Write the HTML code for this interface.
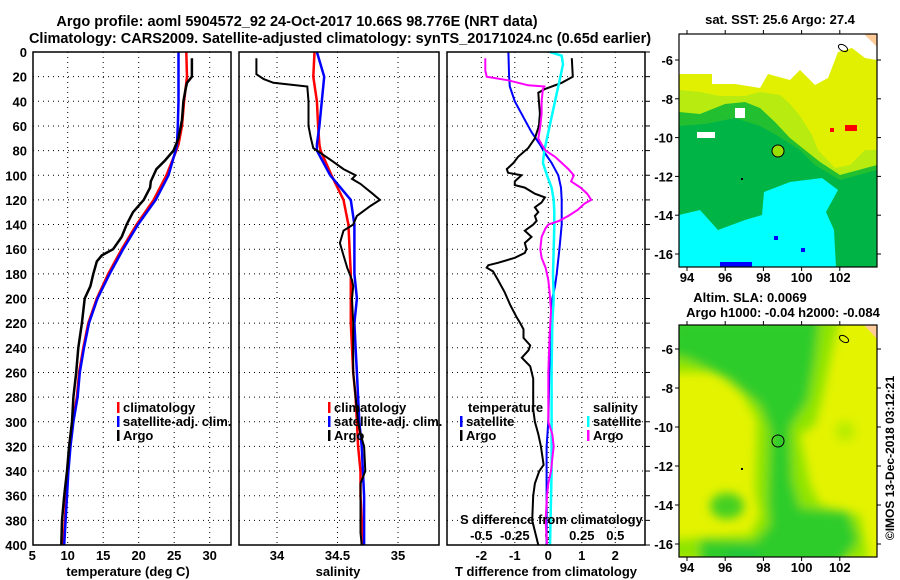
<!DOCTYPE html>
<html><head><meta charset="utf-8"><style>
html,body{margin:0;padding:0;background:#fff;}
#wrap{position:relative;width:900px;height:580px;overflow:hidden;}
svg{position:absolute;left:0;top:0;font-family:"Liberation Sans",sans-serif;font-weight:bold;}
</style></head><body>
<div id="wrap">
<svg id="s" width="900" height="580" viewBox="0 0 900 580"></svg>
</div>
<script>
// ---- data ----
const depthTicks=[0,20,40,60,80,100,120,140,160,180,200,220,240,260,280,300,320,340,360,380,400];
const tempTicks=[5,10,15,20,25,30];
const salTicks=[34,34.5,35];
const salTickLabels=["34","34.5","35"];
const tdTicks=[-2,-1,0,1,2];
const sdTicks=[-0.5,-0.25,0,0.25,0.5];
const sdTickLabels=["-0.5","-0.25","0","0.25","0.5"];

const climDepth=[0,20,40,60,75,80,100,120,140,160,180,200,220,240,260,280,300,320,340,360,380,400];
const climTemp=[26.7,26.8,26.4,26.1,25.6,25.3,23.9,22.1,19.7,17.6,15.7,14.1,12.9,12.2,11.6,11.3,10.7,10.3,10.0,9.8,9.6,9.4];
const satDepth=[0,20,40,60,75,80,100,120,140,160,180,200,220,240,260,280,300,320,340,360,380,400];
const satTemp=[25.6,25.6,25.6,25.5,25.4,25.2,24.2,22.4,19.9,17.8,15.9,14.2,13.0,12.3,11.7,11.4,10.8,10.4,10.1,9.9,9.7,9.5];
const argoTDepth=[5,20,25,30,40,55,70,80,88,95,105,110,120,130,140,150,160,165,170,180,190,200,220,240,260,280,300,320,340,360,380,400];
const argoTemp=[27.5,27.5,26.8,26.6,26.3,26.1,25.6,24.9,23.7,22.5,21.7,21.6,20.7,19.2,18.3,17.6,16.4,14.8,14.1,13.6,13.2,12.4,12.0,11.5,11.2,10.8,10.6,10.2,9.9,9.5,9.2,9.1];

const climSal=[34.31,34.30,34.33,34.34,34.35,34.36,34.45,34.55,34.59,34.60,34.61,34.61,34.61,34.62,34.63,34.65,34.66,34.67,34.69,34.69,34.70,34.70];
const satSal=[34.33,34.39,34.37,34.35,34.33,34.33,34.44,34.61,34.64,34.64,34.64,34.66,34.64,34.65,34.66,34.67,34.68,34.70,34.71,34.72,34.72,34.72];
const argoSDepth=[5,18,22,25,28,40,60,70,78,82,88,95,100,103,107,115,120,125,133,140,145,155,165,175,185,190,200,220,240,260,280,300,310,320,340,350,360,380,390,400];
const argoSal=[33.83,33.83,33.89,33.97,34.25,34.26,34.26,34.28,34.30,34.36,34.45,34.55,34.65,34.62,34.69,34.79,34.85,34.77,34.66,34.63,34.55,34.52,34.55,34.58,34.62,34.63,34.62,34.63,34.63,34.63,34.65,34.67,34.69,34.72,34.73,34.69,34.69,34.69,34.69,34.70];

const dSatDepth=[0,20,28,40,55,65,75,82,90,100,110,120,140,160,180,190,200,220,240,260,300,320,360,400];
const dSatTemp=[-1.19,-1.17,-1.15,-1.0,-0.7,-0.5,-0.25,-0.1,0.1,0.3,0.38,0.4,0.4,0.33,0.25,0.2,0.12,0.08,0.05,0.03,0.0,-0.05,-0.05,-0.05];
const dArgoTDepth=[5,20,25,30,33,40,50,60,70,78,85,90,95,98,100,105,108,110,115,118,122,126,130,133,137,140,145,150,155,160,163,167,171,173,175,178,185,195,205,215,220,225,232,238,242,248,255,265,280,290,300,310,320,335,340,350,360,380,400];
const dArgoTemp=[0.70,0.73,0.4,-0.1,-0.3,-0.28,-0.25,-0.28,-0.4,-0.6,-0.9,-1.04,-1.24,-1.2,-0.8,-1.0,-1.0,-0.7,-0.4,-0.1,-0.2,-0.4,-0.3,-0.4,-0.35,-0.45,-0.7,-0.5,-0.7,-0.65,-0.7,-1.0,-1.5,-1.79,-1.84,-1.65,-1.5,-1.3,-1.14,-0.95,-0.84,-0.74,-0.74,-0.54,-0.59,-0.79,-0.54,-0.45,-0.45,-0.45,-0.4,-0.3,-0.22,-0.14,-0.27,-0.4,-0.45,-0.48,-0.3];
const dSatSDepth=[0,3,10,20,40,55,70,80,90,100,110,120,130,140,160,180,200,220,260,300,340,400];
const dSatSal=[0.013,0.10,0.11,0.09,0.05,0.02,-0.01,-0.03,-0.04,-0.01,0.025,0.04,0.045,0.045,0.04,0.035,0.04,0.03,0.025,0.025,0.025,0.013];
const dArgoSDepth=[5,15,20,23,27,28,30,40,50,60,70,75,80,85,90,95,100,105,110,115,120,123,128,133,137,140,143,150,160,167,175,185,195,210,230,260,300,310,320,330,340,350,360,380,400];
const dArgoSal=[-0.47,-0.47,-0.46,-0.30,-0.15,-0.03,-0.04,-0.05,-0.05,-0.06,-0.075,-0.05,-0.02,0.05,0.1,0.15,0.19,0.17,0.24,0.29,0.32,0.27,0.22,0.15,0.08,0.0,-0.02,-0.05,-0.06,-0.05,-0.02,0.0,0.01,0.02,0.01,0.0,0.0,0.03,0.04,0.03,0.02,0.0,-0.01,-0.02,-0.01];

// ---- helpers ----
const NS="http://www.w3.org/2000/svg";
const svg=document.getElementById('s');
function el(tag,attrs,parent){const e=document.createElementNS(NS,tag);for(const k in attrs)e.setAttribute(k,attrs[k]);(parent||svg).appendChild(e);return e;}
function txt(x,y,s,size,anchor,parent){const t=el('text',{x:x,y:y,'font-size':size,'text-anchor':anchor||'middle',fill:'#000'},parent);t.textContent=s;return t;}
const Y0=52,Y1=545;
const yD=d=>Y0+(Y1-Y0)*d/400;
const xT=v=>32.2+(v-5)*7.1;
const xS=v=>277+(v-34)*121;
const xTD=v=>548.3+v*33.5;
const xSD=v=>548.3+v*4*33.5;

const panels=[[33,231],[239,439],[447,645]];

function line(xs,ds,fx,color,w,name){
  const p=xs.map((v,i)=>fx(v).toFixed(1)+','+yD(ds[i]).toFixed(1)).join(' ');
  const e=el('polyline',{points:p,fill:'none',stroke:color,'stroke-width':w,'stroke-linejoin':'miter'});
  
  
}

// titles
let t=txt(297,26,"Argo profile: aoml 5904572_92 24-Oct-2017 10.66S 98.776E (NRT data)",14.5);


t=txt(340,43,"Climatology: CARS2009. Satellite-adjusted climatology: synTS_20171024.nc (0.65d earlier)",14.5);



// grids & frames
panels.forEach((p,pi)=>{
  const g=el('g',{});
  
  
  depthTicks.forEach(d=>{
    if(d>0&&d<400)el('line',{x1:p[0],x2:p[1],y1:yD(d),y2:yD(d),stroke:'#000','stroke-width':1,'stroke-dasharray':'1,4'},g);
  });
  const vt=pi==0?tempTicks.map(xT):pi==1?salTicks.map(xS):tdTicks.map(xTD);
  vt.forEach(x=>{if(x>p[0]+1&&x<p[1]-1)el('line',{x1:x,x2:x,y1:Y0,y2:Y1,stroke:'#000','stroke-width':1,'stroke-dasharray':'1,4'},g);});
});

// depth labels
depthTicks.forEach(d=>{
  const tl=txt(27,yD(d)+5,String(d),13,'end');
  
  
});
// right ticks panel3
depthTicks.forEach(d=>{el('line',{x1:645,x2:650,y1:yD(d),y2:yD(d),stroke:'#000','stroke-width':1});});

// x labels
tempTicks.forEach(v=>{const tl=txt(xT(v),560,String(v),13);});
salTicks.forEach((v,i)=>{const tl=txt(xS(v),560,salTickLabels[i],13);});
tdTicks.forEach(v=>{const tl=txt(xTD(v),560,String(v),13);});
sdTicks.forEach((v,i)=>{const tl=txt(xSD(v),540,sdTickLabels[i],13);});
t=txt(128,576,"temperature (deg C)",13);
t=txt(338,576,"salinity",13);
t=txt(546,576,"T difference from climatology",13);

// series
line(climTemp,climDepth,xT,'#ff0000',2.5,'climatology-temp-line');
line(satTemp,satDepth,xT,'#0000ff',2.5,'satellite-temp-line');
line(argoTemp,argoTDepth,xT,'#000',2.5,'argo-temp-line');
line(climSal,climDepth,xS,'#ff0000',2.5,'climatology-salinity-line');
line(satSal,satDepth,xS,'#0000ff',2.5,'satellite-salinity-line');
line(argoSal,argoSDepth,xS,'#000',2,'argo-salinity-line');
line(dSatTemp,dSatDepth,xTD,'#0000ff',2,'satellite-tdiff-line');
line(dArgoTemp,dArgoTDepth,xTD,'#000',2,'argo-tdiff-line');
line(dSatSal,dSatSDepth,xSD,'#00ffff',2.5,'satellite-sdiff-line');
line(dArgoSal,dArgoSDepth,xSD,'#ff00ff',2,'argo-sdiff-line');

// frames
panels.forEach((p,pi)=>{const r=el('rect',{x:p[0],y:Y0,width:p[1]-p[0],height:Y1-Y0,fill:'none',stroke:'#000','stroke-width':1.5});});

// legends
function leg(x,y,color,label,name){
  const g=el('g',{});
  
  
  el('rect',{x:x,y:y-10,width:2.5,height:11,fill:color},g);
  txt(x+6,y,label,13,'start',g);
}
leg(117,412,'#ff0000','climatology','legend-climatology');
leg(117,426,'#0000ff','satellite-adj. clim.','legend-satellite');
leg(117,440,'#000','Argo','legend-argo');
leg(328,412,'#ff0000','climatology','legend-climatology-2');
leg(328,426,'#0000ff','satellite-adj. clim.','legend-satellite-2');
leg(328,440,'#000','Argo','legend-argo-2');
t=txt(468,412,"temperature",13,'start');
leg(460,426,'#0000ff','satellite','legend-t-satellite');
leg(460,440,'#000','Argo','legend-t-argo');
t=txt(593,412,"salinity",13,'start');
leg(587,426,'#00ffff','satellite','legend-s-satellite');
leg(587,440,'#ff00ff','Argo','legend-s-argo');
t=txt(460,524,"S difference from climatology",13,'start');

// ---- maps ----
const lonTicks=[94,96,98,100,102];
const latTicks=[-6,-8,-10,-12,-14,-16];
const mX=lon=>687+(lon-94)*19.1;
function mapAxes(top,bot,latY,labelY,name){
  const g=el('g',{});
  
  
  el('rect',{x:679,y:top,width:198,height:bot-top,fill:'none',stroke:'#000','stroke-width':1.2},g);
  lonTicks.forEach(l=>{el('line',{x1:mX(l),x2:mX(l),y1:top,y2:top-4,stroke:'#000'},g);el('line',{x1:mX(l),x2:mX(l),y1:bot,y2:bot+4,stroke:'#000'},g);txt(mX(l),labelY,String(l),13,'middle',g);});
  latTicks.forEach(l=>{const y=latY(l);el('line',{x1:675,x2:679,y1:y,y2:y,stroke:'#000'},g);el('line',{x1:877,x2:881,y1:y,y2:y,stroke:'#000'},g);txt(673,y+5,String(l),13,'end',g);});
}
// top map
const mt=el('g',{});


el('rect',{x:679,y:34,width:198,height:233,fill:'#ffffff'},mt);
el('polygon',{points:'679,74 712,74 712,84 735,84 760,88 768,74 790,80 800,70 815,85 828,78 838,52 852,48 865,58 877,60 877,267 679,267',fill:'#e0f000'},mt);
el('polygon',{points:'679,90 700,92 720,96 745,96 760,92 780,95 790,104 800,116 812,135 818,150 835,168 850,165 865,150 877,150 877,267 679,267',fill:'#b8ec10'},mt);
el('polygon',{points:'679,112 700,114 725,104 745,102 760,108 775,122 790,138 805,150 820,162 840,175 877,165 877,267 679,267',fill:'#22c030'},mt);
el('polygon',{points:'679,126 705,124 735,118 760,126 778,136 800,150 815,165 840,180 877,170 877,267 679,267',fill:'#00b446'},mt);
el('polygon',{points:'679,215 700,210 718,230 745,220 762,215 764,192 790,182 822,178 838,190 826,212 834,230 836,267 679,267',fill:'#00ffff'},mt);
el('rect',{x:720,y:262,width:32,height:5,fill:'#0000ff'},mt);
el('rect',{x:774,y:236,width:4,height:4,fill:'#0000ff'},mt);
el('rect',{x:801,y:248,width:4,height:4,fill:'#0000ff'},mt);
el('rect',{x:845,y:125,width:12,height:6,fill:'#ff0000'},mt);
el('rect',{x:830,y:128,width:4,height:4,fill:'#ff0000'},mt);
el('rect',{x:697,y:132,width:18,height:6,fill:'#ffffff'},mt);
el('rect',{x:735,y:108,width:10,height:10,fill:'#ffffff'},mt);
el('polygon',{points:'864,34 877,34 877,47',fill:'#ffcc99'},mt);
el('ellipse',{cx:843,cy:48,rx:5,ry:3,fill:'none',stroke:'#000','stroke-width':1,transform:'rotate(30 843 48)'},mt);
el('circle',{cx:778,cy:151,r:6,fill:'#99e000',stroke:'#000','stroke-width':1},mt);
el('rect',{x:741,y:178,width:2,height:2,fill:'#000'},mt);
mapAxes(34,267,l=>60+(-6-l)*19.4,282,'sst-map-axes');
t=txt(780,24,"sat. SST: 25.6 Argo: 27.4",13);

// bottom map
const mb=el('g',{});


const defs=el('defs',{});
const f=el('filter',{id:'bl',x:'-20%',y:'-20%',width:'140%',height:'140%'},defs);
el('feGaussianBlur',{stdDeviation:'5'},f);
el('clipPath',{id:'cp'},defs);
el('rect',{x:679,y:325,width:198,height:232},defs.lastChild);
el('rect',{x:679,y:325,width:198,height:232,fill:'#e4f300'},mb);
const gb=el('g',{'clip-path':'url(#cp)'},mb);
const gbl=el('g',{filter:'url(#bl)'},gb);
el('polygon',{points:'670,318 840,318 832,350 823,395 815,425 800,435 810,485 820,505 860,515 868,560 670,560 670,540 750,535 760,515 755,490 757,420 743,395 717,372 670,372',fill:'#8ee400'},gbl);
el('polygon',{points:'670,318 820,318 815,360 808,400 790,428 792,480 800,508 848,512 858,540 840,565 700,565 700,540 755,542 770,525 768,500 770,430 760,405 730,380 690,360 670,355',fill:'#2ecc2a'},gbl);
el('ellipse',{cx:727,cy:506,rx:17,ry:13,fill:'#44d022'},gbl);
el('ellipse',{cx:742,cy:556,rx:20,ry:8,fill:'#22c63a'},gbl);
el('ellipse',{cx:845,cy:431,rx:10,ry:10,fill:'#b8ec00'},gbl);
el('polygon',{points:'864,325 877,325 877,339',fill:'#ffcc99'},mb);
el('ellipse',{cx:844,cy:339,rx:5,ry:3,fill:'none',stroke:'#000','stroke-width':1,transform:'rotate(30 844 339)'},mb);
el('circle',{cx:778,cy:441,r:6,fill:'none',stroke:'#000','stroke-width':1},mb);
el('rect',{x:741,y:468,width:2,height:2,fill:'#000'},mb);
mapAxes(325,557,l=>349+(-6-l)*19.5,572,'sla-map-axes');
t=txt(750,302,"Altim. SLA: 0.0069",13);
t=txt(783,317,"Argo h1000: -0.04 h2000: -0.084",13);
t=txt(0,0,"©IMOS 13-Dec-2018 03:12:21",12,'middle');
t.setAttribute('transform','translate(894,458) rotate(-90)');


</script>
</body></html>
